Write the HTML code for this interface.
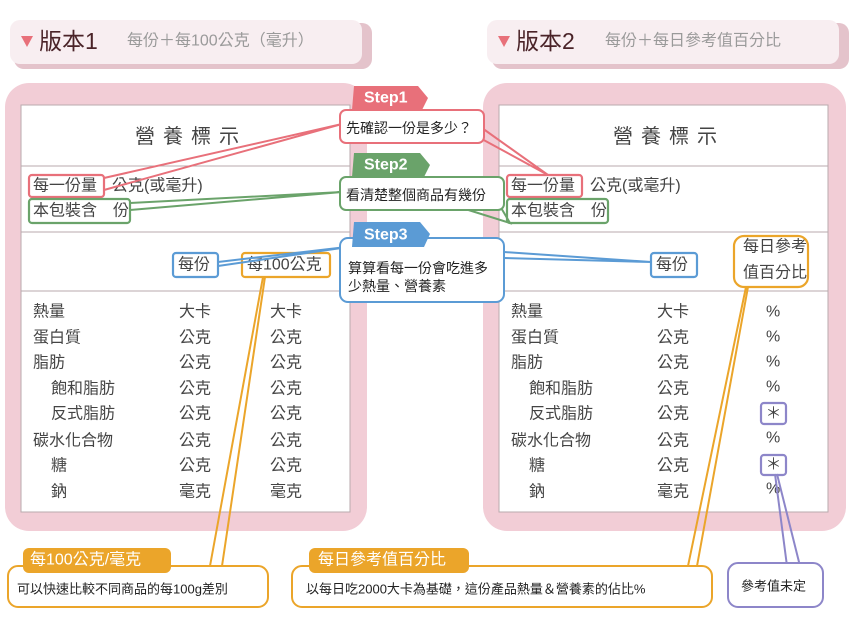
<!DOCTYPE html>
<html><head><meta charset="utf-8"><style>
html,body{margin:0;padding:0;background:#fff;width:850px;height:617px;overflow:hidden}
svg text{font-family:"Liberation Sans","Noto Sans CJK TC",sans-serif;dominant-baseline:central}
</style></head><body>
<svg width="850" height="617" viewBox="0 0 850 617" xmlns="http://www.w3.org/2000/svg">
<rect x="14" y="23" width="358" height="46" rx="10" fill="#e4c3cb"/>
<rect x="10" y="20" width="352" height="44" rx="10" fill="#f8eef1"/>
<polygon points="21,36 33,36 27,47" fill="#e8707a"/>
<text x="39" y="41" font-size="23" fill="#4a2328">版本1</text>
<text x="127" y="41" font-size="16" fill="#9a9a9a">每份＋每100公克（毫升）</text>
<rect x="492" y="23" width="357" height="46" rx="10" fill="#e4c3cb"/>
<rect x="487" y="20" width="352" height="44" rx="10" fill="#f8eef1"/>
<polygon points="498,36 510,36 504,47" fill="#e8707a"/>
<text x="516" y="41" font-size="23" fill="#4a2328">版本2</text>
<text x="605" y="41" font-size="16" fill="#9a9a9a">每份＋每日參考值百分比</text>

<rect x="5" y="83" width="362" height="448" rx="24" fill="#f2cdd6"/>
<rect x="21" y="105" width="329" height="407" fill="#fff" stroke="#b9aaae"/>
<g stroke="#b9aaae"><line x1="21" y1="166" x2="350" y2="166"/><line x1="21" y1="232" x2="350" y2="232"/><line x1="21" y1="291" x2="350" y2="291"/></g>
<rect x="483" y="83" width="363" height="448" rx="24" fill="#f2cdd6"/>
<rect x="499" y="105" width="329" height="407" fill="#fff" stroke="#b9aaae"/>
<g stroke="#b9aaae"><line x1="499" y1="166" x2="828" y2="166"/><line x1="499" y1="232" x2="828" y2="232"/><line x1="499" y1="291" x2="828" y2="291"/></g>

<g font-size="20" fill="#444" letter-spacing="8">
<text x="135" y="137">營養標示</text>
<text x="613" y="137">營養標示</text>
</g>

<g font-size="16" fill="#444">
<text x="112" y="186">公克(或毫升)</text>
<text x="590" y="186">公克(或毫升)</text>
<text x="33" y="186">每一份量</text><text x="511" y="186">每一份量</text>
<text x="33" y="211">本包裝含　份</text><text x="511" y="211">本包裝含　份</text>
<text x="178" y="265">每份</text><text x="656" y="265">每份</text>
<text x="247" y="265">每100公克</text>
<text x="743" y="247">每日參考</text><text x="743" y="273">值百分比</text>
</g>
<g font-size="16" fill="#444">
<text x="33" y="312">熱量</text><text x="33" y="338">蛋白質</text><text x="33" y="363">脂肪</text>
<text x="51" y="389">飽和脂肪</text><text x="51" y="414">反式脂肪</text><text x="33" y="441">碳水化合物</text>
<text x="51" y="466">糖</text><text x="51" y="492">鈉</text>
<text x="179" y="312">大卡</text><text x="179" y="338">公克</text><text x="179" y="363">公克</text><text x="179" y="389">公克</text><text x="179" y="414">公克</text><text x="179" y="441">公克</text><text x="179" y="466">公克</text><text x="179" y="492">毫克</text>
<text x="270" y="312">大卡</text><text x="270" y="338">公克</text><text x="270" y="363">公克</text><text x="270" y="389">公克</text><text x="270" y="414">公克</text><text x="270" y="441">公克</text><text x="270" y="466">公克</text><text x="270" y="492">毫克</text>
<text x="511" y="312">熱量</text><text x="511" y="338">蛋白質</text><text x="511" y="363">脂肪</text>
<text x="529" y="389">飽和脂肪</text><text x="529" y="414">反式脂肪</text><text x="511" y="441">碳水化合物</text>
<text x="529" y="466">糖</text><text x="529" y="492">鈉</text>
<text x="657" y="312">大卡</text><text x="657" y="338">公克</text><text x="657" y="363">公克</text><text x="657" y="389">公克</text><text x="657" y="414">公克</text><text x="657" y="441">公克</text><text x="657" y="466">公克</text><text x="657" y="492">毫克</text>
<text x="766" y="312">%</text><text x="766" y="337">%</text><text x="766" y="362">%</text><text x="766" y="387">%</text><text x="766" y="438">%</text><text x="766" y="489">%</text>
<text x="773.5" y="414" text-anchor="middle">＊</text><text x="773.5" y="465" text-anchor="middle">＊</text>
</g>

<g fill="none" stroke-width="2.2">
<rect x="29" y="175" width="75" height="22" rx="3" stroke="#e8707a"/>
<rect x="507" y="175" width="75" height="22" rx="3" stroke="#e8707a"/>
<rect x="29" y="199" width="101" height="24" rx="3" stroke="#6aa36a"/>
<rect x="507" y="199" width="101" height="24" rx="3" stroke="#6aa36a"/>
<rect x="173" y="253" width="45" height="24" rx="3" stroke="#5b9bd5"/>
<rect x="651" y="253" width="46" height="24" rx="3" stroke="#5b9bd5"/>
<rect x="242" y="253" width="88" height="24" rx="3" stroke="#eba52a"/>
<rect x="734" y="236" width="74" height="51" rx="10" stroke="#eba52a"/>
<rect x="761" y="403" width="25" height="21" rx="3" stroke="#8d86c9"/>
<rect x="761" y="455" width="25" height="20" rx="3" stroke="#8d86c9"/>
</g>

<g fill="none" stroke-width="2">
<polyline points="104,178 342,124 104,190" stroke="#e8707a"/>
<polyline points="482,128 548,175 480,138" stroke="#e8707a"/>
<polyline points="130,203 342,192 130,210" stroke="#6aa36a"/>
<polyline points="462,208 510,223 500,206" stroke="#6aa36a"/>
<polyline points="218,262 355,246 218,266" stroke="#5b9bd5"/>
<polyline points="504,252 651,262 504,258" stroke="#5b9bd5"/>
<polyline points="263,277 210,566 222,566 265,277" stroke="#eba52a"/>
<polyline points="746,287 688,566 697,566 748,287" stroke="#eba52a"/>
<polyline points="775,474 787,566 800,566 777,474" stroke="#8d86c9"/>
</g>

<rect x="340" y="110" width="144" height="33" rx="6" fill="#fff" stroke="#e8707a" stroke-width="2"/>
<polygon points="354,86 418,86 428,98 422,110 352,110" fill="#e8707a"/>
<text x="364" y="98" font-size="16" font-weight="bold" fill="#fff">Step1</text>
<text x="346" y="128" font-size="14" fill="#222">先確認一份是多少？</text>

<rect x="340" y="177" width="164" height="33" rx="6" fill="#fff" stroke="#6aa36a" stroke-width="2"/>
<polygon points="354,153 420,153 430,165 424,177 352,177" fill="#6aa36a"/>
<text x="364" y="165" font-size="16" font-weight="bold" fill="#fff">Step2</text>
<text x="346" y="195" font-size="14" fill="#222">看清楚整個商品有幾份</text>

<rect x="340" y="238" width="164" height="64" rx="8" fill="#fff" stroke="#5b9bd5" stroke-width="2"/>
<polygon points="354,222 420,222 430,234 424,247 352,247" fill="#5b9bd5"/>
<text x="364" y="235" font-size="16" font-weight="bold" fill="#fff">Step3</text>
<text x="348" y="268" font-size="14" fill="#222">算算看每一份會吃進多</text>
<text x="348" y="286" font-size="14" fill="#222">少熱量、營養素</text>

<rect x="8" y="566" width="260" height="41" rx="10" fill="#fff" stroke="#eba52a" stroke-width="2"/>
<rect x="23" y="548" width="148" height="25" rx="6" fill="#eba52a"/>
<text x="30" y="560" font-size="16" fill="#fff">每100公克/毫克</text>
<text x="17" y="589" font-size="13" fill="#222">可以快速比較不同商品的每100g差別</text>

<rect x="292" y="566" width="420" height="41" rx="10" fill="#fff" stroke="#eba52a" stroke-width="2"/>
<rect x="309" y="548" width="160" height="25" rx="6" fill="#eba52a"/>
<text x="318" y="560" font-size="16" fill="#fff">每日參考值百分比</text>
<text x="306" y="589" font-size="13" fill="#222">以每日吃2000大卡為基礎，這份產品熱量＆營養素的佔比%</text>

<rect x="728" y="563" width="95" height="44" rx="10" fill="#fff" stroke="#8d86c9" stroke-width="2"/>
<text x="741" y="586" font-size="13" fill="#222">參考值未定</text>
</svg>
</body></html>
